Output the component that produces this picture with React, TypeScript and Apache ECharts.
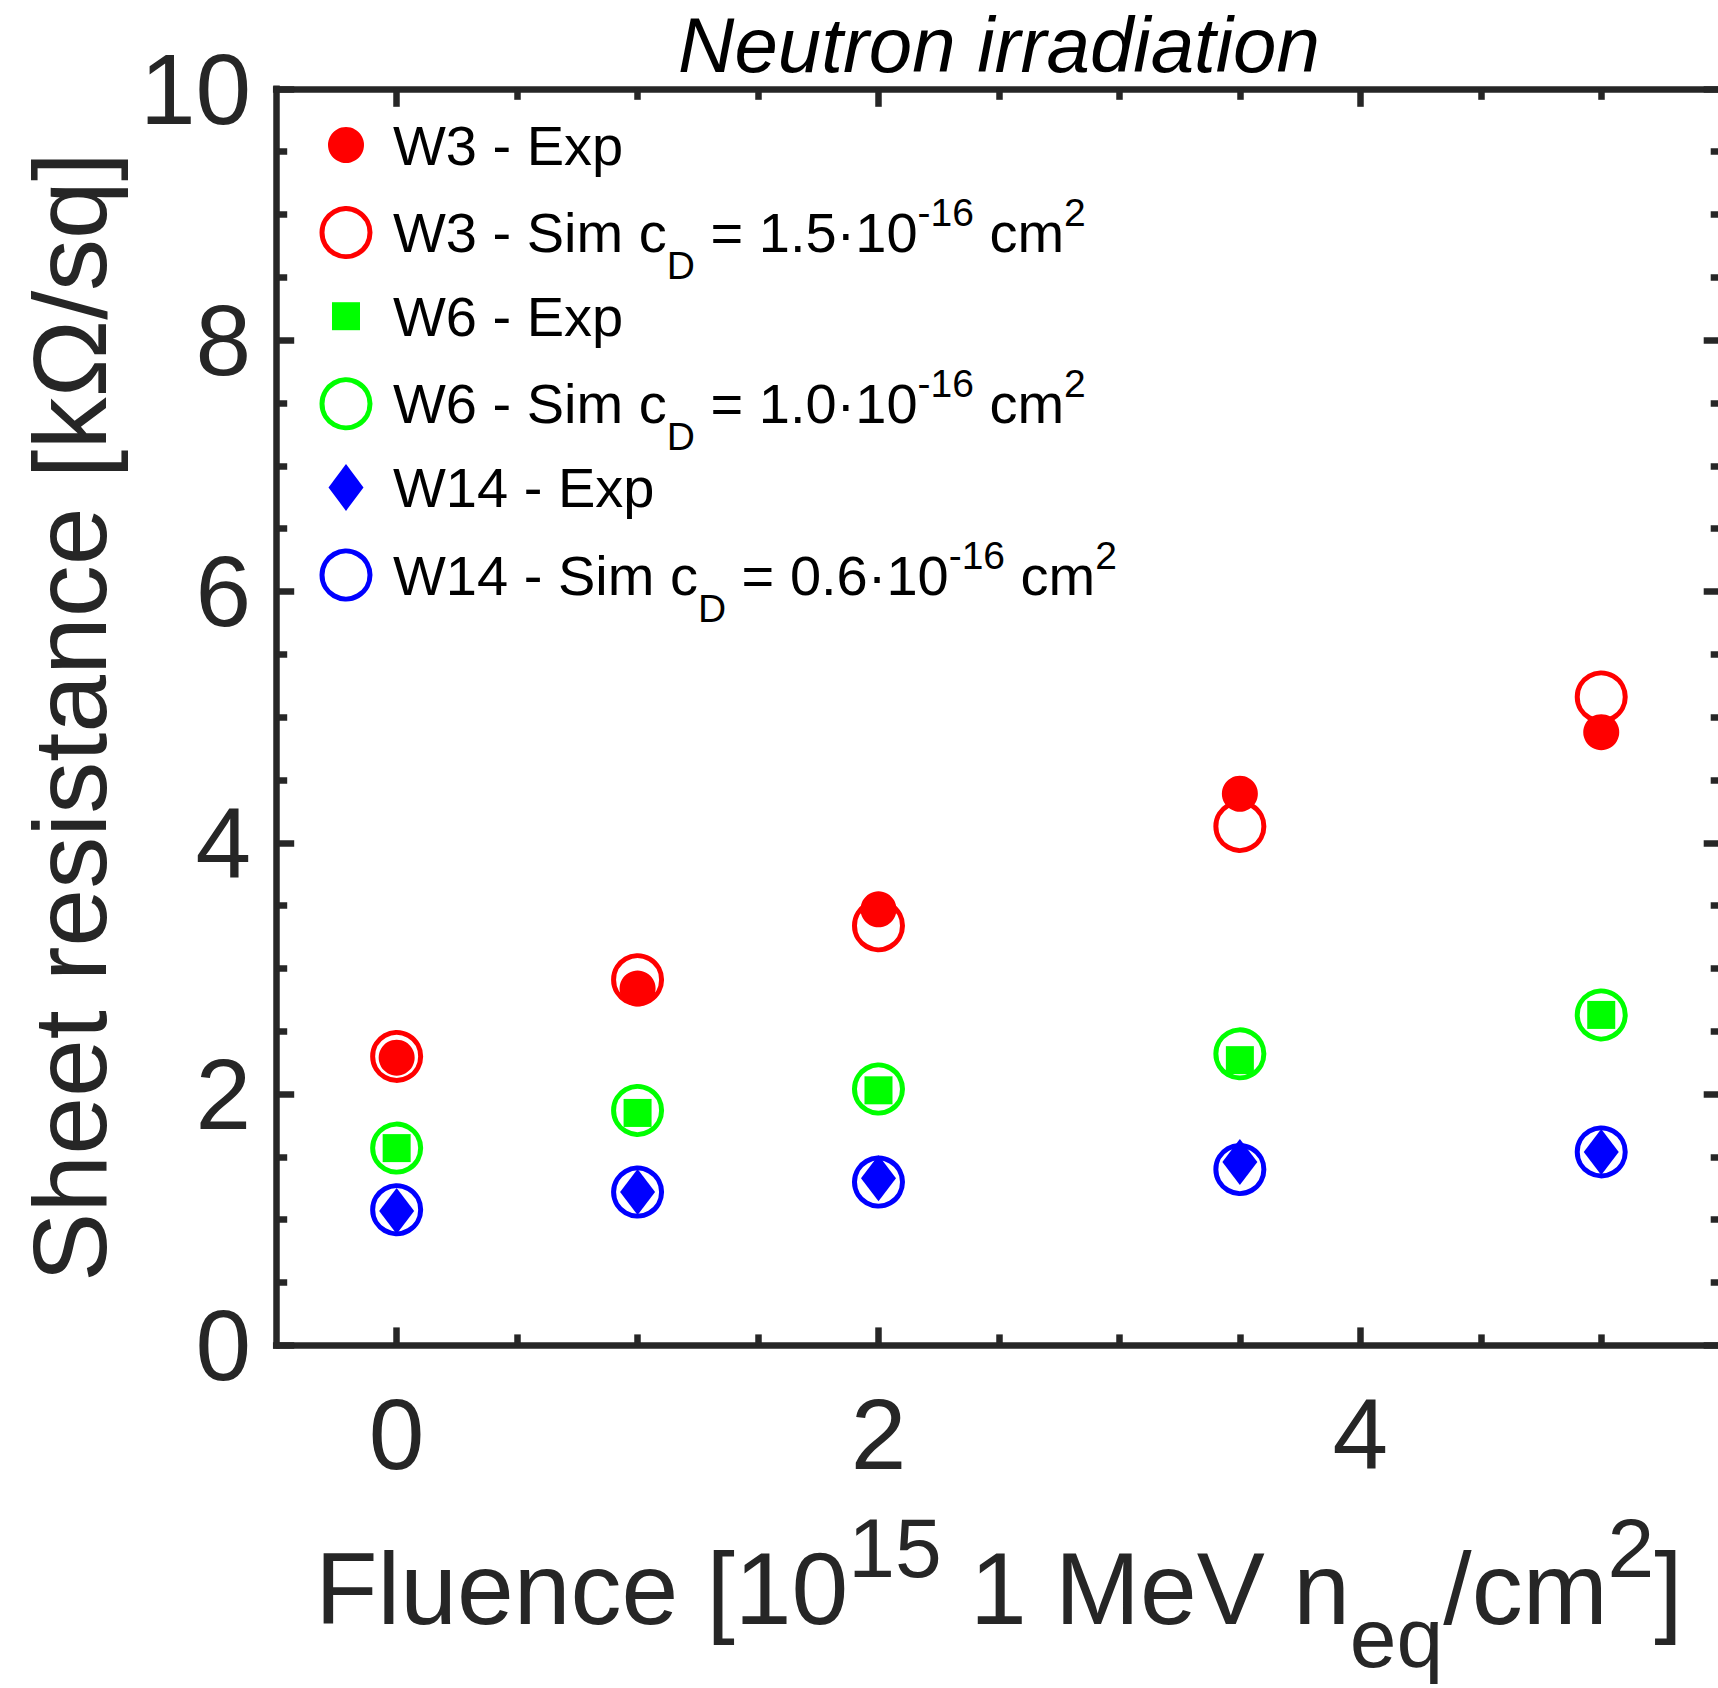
import React, { useEffect, useRef } from 'react';
import * as echarts from 'echarts';

// ---------- data ----------
const fluence = [0, 1, 2, 3.5, 5];
const w3Exp = [2.29, 2.84, 3.47, 4.39, 4.88];
const w3Sim = [2.3, 2.91, 3.34, 4.13, 5.16];
const w6Exp = [1.57, 1.85, 2.03, 2.27, 2.63];
const w6Sim = [1.57, 1.87, 2.04, 2.32, 2.63];
const w14Exp = [1.07, 1.22, 1.33, 1.46, 1.54];
const w14Sim = [1.08, 1.22, 1.3, 1.4, 1.54];

const xTickLabels = [0, 2, 4];
const xMinorTicks = [0.5, 1, 1.5, 2.5, 3, 3.5, 4.5, 5];
const yTickLabels = [0, 2, 4, 6, 8, 10];
const yMinorTicks = [0.5, 1, 1.5, 2.5, 3, 3.5, 4.5, 5, 5.5, 6.5, 7, 7.5, 8.5, 9, 9.5];

const seriesNames = ['W3 - Exp', 'W3 - Sim', 'W6 - Exp', 'W6 - Sim', 'W14 - Exp', 'W14 - Sim'];
const simCd: Record<string, string> = { 'W3 - Sim': '1.5', 'W6 - Sim': '1.0', 'W14 - Sim': '0.6' };

const titleText = 'Neutron irradiation';
const yName = 'Sheet resistance [kΩ/sq]';
const xName = '{m|Fluence [10}{sup|15}{m| 1 MeV n}{sub|eq}{m|/cm}{sup|2}{m|]}';

// ---------- style ----------
const FONT = "'Liberation Sans', Arial, Helvetica, sans-serif";
const AX = '#262626';
const LW = 6.5;
const RED = '#ff0000';
const GREEN = '#00ff00';
const BLUE = '#0000ff';
const RING = 48;
const RING_W = 5;
const TRANSP = 'rgba(0,0,0,0)';

const GRID = { left: 276.2, top: 88.8, width: 1445.5, height: 1256.6 };

const pts = (ys: number[]) => fluence.map((x, i) => [x, ys[i]]);

function xAxisDef(position: 'top' | 'bottom', ticks: number[], len: number, line: boolean, extra: any = {}) {
  return {
    type: 'value',
    position,
    min: -0.5,
    max: 5.5,
    axisLine: { show: line, onZero: false, lineStyle: { color: AX, width: LW, cap: 'square' } },
    axisTick: { show: true, inside: true, length: len, customValues: ticks, lineStyle: { color: AX, width: LW } },
    axisLabel: { show: false },
    splitLine: { show: false },
    minorTick: { show: false },
    ...extra,
  };
}

function yAxisDef(position: 'left' | 'right', ticks: number[], len: number, line: boolean, extra: any = {}) {
  return {
    type: 'value',
    position,
    min: 0,
    max: 10,
    axisLine: { show: line, onZero: false, lineStyle: { color: AX, width: LW, cap: 'square' } },
    axisTick: { show: true, inside: true, length: len, customValues: ticks, lineStyle: { color: AX, width: LW } },
    axisLabel: { show: false },
    splitLine: { show: false },
    minorTick: { show: false },
    ...extra,
  };
}

const LEG_FONT = 56;
const LEG_SMALL = 39;
const SUB_PAD = 66;
const SUP_PAD = 40;

const legendRich = {
  m: { fontSize: LEG_FONT, lineHeight: 60, verticalAlign: 'middle', color: '#000', fontFamily: FONT },
  sup: { fontSize: LEG_SMALL, lineHeight: 60, verticalAlign: 'middle', color: '#000', fontFamily: FONT, padding: [0, 0, SUP_PAD, 0] },
  sub: { fontSize: LEG_SMALL, lineHeight: 60, verticalAlign: 'middle', color: '#000', fontFamily: FONT, padding: [SUB_PAD, 0, 0, 0] },
};

const legendSpec = [
  { icon: 'circle', w: 36, h: 36, st: { color: RED, borderWidth: 0, opacity: 1 }, stroke: 0 },
  { icon: 'circle', w: RING, h: RING, st: { color: TRANSP, borderColor: RED, borderWidth: RING_W, opacity: 1 }, stroke: RING_W },
  { icon: 'rect', w: 28, h: 28, st: { color: GREEN, borderWidth: 0, opacity: 1 }, stroke: 0 },
  { icon: 'circle', w: RING, h: RING, st: { color: TRANSP, borderColor: GREEN, borderWidth: RING_W, opacity: 1 }, stroke: RING_W },
  { icon: 'diamond', w: 35, h: 47, st: { color: BLUE, borderWidth: 0, opacity: 1 }, stroke: 0 },
  { icon: 'circle', w: RING, h: RING, st: { color: TRANSP, borderColor: BLUE, borderWidth: RING_W, opacity: 1 }, stroke: RING_W },
];

const LEG_X = 346;
const LEG_Y0 = 147;
const LEG_DY = 85.6;
const LEG_TEXT_X = 393;

function legendLabel(name: string) {
  const cd = simCd[name];
  if (!cd) return `{m|${name}}`;
  return `{m|${name} c}{sub|D}{m| = ${cd}·10}{sup|-16}{m| cm}{sup|2}`;
}

export default function App() {
  const ref = useRef<HTMLDivElement>(null);

  useEffect(() => {
    if (!ref.current) return;
    const chart = echarts.init(ref.current, undefined, { renderer: 'svg' });

    const legends = seriesNames.map((name, i) => {
      const s = legendSpec[i];
      const textStart = LEG_X + s.w / 2 + 5;
      const hasSub = !!simCd[name];
      const halfBox = hasSub ? (LEG_SMALL + SUB_PAD) / 2 : 30;
      return {
        show: true,
        orient: 'vertical',
        left: LEG_X - s.w / 2 - s.stroke / 2,
        top: LEG_Y0 + i * LEG_DY - halfBox,
        padding: 0,
        itemWidth: s.w,
        itemHeight: s.h,
        selectedMode: false,
        data: [{ name, icon: s.icon }],
        itemStyle: s.st,
        formatter: (n: string) => legendLabel(n),
        textStyle: {
          color: '#000',
          fontFamily: FONT,
          fontSize: LEG_FONT,
          padding: [0, 0, 0, LEG_TEXT_X - textStart],
          rich: legendRich,
        },
      };
    });

    const ringSeries = (name: string, ys: number[], color: string) => ({
      name,
      type: 'scatter',
      data: pts(ys),
      symbol: 'circle',
      symbolSize: RING,
      itemStyle: { color: TRANSP, borderColor: color, borderWidth: RING_W, opacity: 1 },
      emphasis: { disabled: true },
    });

    const option: any = {
      animation: false,
      backgroundColor: '#ffffff',
      title: {
        text: titleText,
        left: GRID.left + GRID.width / 2,
        top: 6,
        padding: 0,
        textAlign: 'center',
        textStyle: { fontSize: 78, fontStyle: 'italic', fontWeight: 'normal', color: '#000', fontFamily: FONT, lineHeight: 78 },
      },
      legend: legends,
      grid: { ...GRID, containLabel: false, outerBoundsMode: 'none', show: false },
      xAxis: [
        xAxisDef('bottom', xTickLabels, 18, true, {
          axisLabel: {
            show: true,
            customValues: xTickLabels,
            fontSize: 100,
            lineHeight: 100,
            margin: 39,
            color: AX,
            fontFamily: FONT,
          },
          name: xName,
          nameLocation: 'middle',
          nameGap: 184,
          nameMoveOverlap: false,
          nameTextStyle: {
            color: AX,
            fontFamily: FONT,
            fontSize: 102,
            rich: {
              m: { fontSize: 102, lineHeight: 120, verticalAlign: 'middle', color: AX, fontFamily: FONT },
              sup: { fontSize: 84, lineHeight: 120, verticalAlign: 'middle', color: AX, fontFamily: FONT, padding: [0, 0, 83, 0] },
              sub: { fontSize: 84, lineHeight: 120, verticalAlign: 'middle', color: AX, fontFamily: FONT, padding: [98, 0, 0, 0] },
            },
          },
        }),
        xAxisDef('bottom', xMinorTicks, 11, false),
        xAxisDef('top', xTickLabels, 18, true),
        xAxisDef('top', xMinorTicks, 11, false),
      ],
      yAxis: [
        yAxisDef('left', yTickLabels, 18, true, {
          axisLabel: {
            show: true,
            customValues: yTickLabels,
            fontSize: 100,
            lineHeight: 100,
            margin: 25,
            color: AX,
            fontFamily: FONT,
          },
          name: yName,
          nameLocation: 'middle',
          nameRotate: 90,
          nameGap: 151,
          nameMoveOverlap: false,
          nameTextStyle: { color: AX, fontFamily: FONT, fontSize: 104, lineHeight: 110 },
        }),
        yAxisDef('left', yMinorTicks, 11, false),
        yAxisDef('right', yTickLabels, 18, true),
        yAxisDef('right', yMinorTicks, 11, false),
      ],
      series: [
        ringSeries('W3 - Sim', w3Sim, RED),
        ringSeries('W6 - Sim', w6Sim, GREEN),
        ringSeries('W14 - Sim', w14Sim, BLUE),
        {
          name: 'W3 - Exp',
          type: 'scatter',
          data: pts(w3Exp),
          symbol: 'circle',
          symbolSize: 36,
          itemStyle: { color: RED, opacity: 1 },
          emphasis: { disabled: true },
        },
        {
          name: 'W6 - Exp',
          type: 'scatter',
          data: pts(w6Exp),
          symbol: 'rect',
          symbolSize: 28,
          itemStyle: { color: GREEN, opacity: 1 },
          emphasis: { disabled: true },
        },
        {
          name: 'W14 - Exp',
          type: 'scatter',
          data: pts(w14Exp),
          symbol: 'diamond',
          symbolSize: [35, 46],
          itemStyle: { color: BLUE, opacity: 1 },
          emphasis: { disabled: true },
        },
      ],
    };

    chart.setOption(option);
    return () => chart.dispose();
  }, []);

  return (
    <div
      ref={ref}
      style={{ position: 'absolute', left: 0, top: 0, width: 1718, height: 1688, background: '#fff' }}
    />
  );
}
